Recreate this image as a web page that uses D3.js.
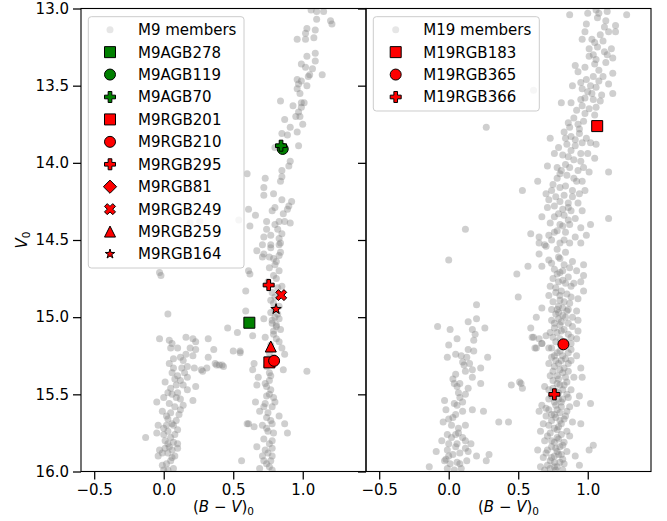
<!DOCTYPE html>
<html>
<head>
<meta charset="utf-8" />
<title>M9 and M19 colour-magnitude diagrams</title>
<style>
  body { margin: 0; background: #fff; }
  svg text { font-family: "DejaVu Sans", sans-serif; fill: #000; }
</style>
</head>
<body>
<div id="cmd"></div>
<script src="https://cdnjs.cloudflare.com/ajax/libs/d3/7.8.5/d3.min.js"></script>
<script>

// ---- data: [ (B-V)0 , V0 ] ----
var m9Members = [
  [1.06,13.01],[1.10,13.02],[1.15,13.02],[1.10,13.07],[1.20,13.08],[1.21,13.10],[1.03,13.13],[1.09,13.14],[1.02,13.16],
  [0.96,13.20],[1.02,13.20],[1.08,13.19],[1.09,13.29],[1.03,13.31],[1.09,13.34],[0.99,13.36],[1.02,13.38],[1.07,13.39],
  [1.05,13.43],[1.04,13.44],[1.14,13.43],[0.96,13.46],[0.99,13.47],[0.97,13.49],[1.03,13.50],[0.96,13.52],[0.98,13.55],
  [0.84,13.60],[0.99,13.61],[0.93,13.63],[1.01,13.61],[0.99,13.64],[0.97,13.67],[0.95,13.70],[0.98,13.70],[0.87,13.72],
  [1.00,13.75],[0.91,13.77],[0.96,13.80],[0.89,13.82],[0.85,13.81],[0.97,13.89],[0.80,13.90],[0.91,13.99],[0.90,14.02],
  [0.85,14.05],[0.85,14.09],[0.84,14.12],[0.60,14.07],[0.73,14.10],[0.72,14.16],[0.79,14.20],[0.72,14.21],[0.85,14.24],
  [0.92,14.25],[0.90,14.28],[0.80,14.29],[0.89,14.30],[0.78,14.31],[0.61,14.30],[0.66,14.34],[0.86,14.33],[0.54,14.37],
  [0.62,14.41],[0.74,14.38],[0.83,14.38],[0.87,14.38],[0.91,14.39],[0.74,14.43],[0.82,14.43],[0.85,14.46],[0.72,14.48],
  [0.83,14.49],[0.77,14.53],[0.83,14.53],[0.19,14.39],[0.26,14.38],
  [0.72,14.59],[0.84,14.58],[0.81,14.64],[0.61,14.70],[-0.03,14.71],[-0.02,14.73],[0.71,14.53],[0.77,14.55],[0.84,14.52],
  [0.67,14.57],[0.71,14.61],[0.76,14.61],[0.83,14.60],[0.80,14.66],[0.83,14.70],[0.62,14.72],[0.79,14.73],[0.85,14.80],
  [0.59,14.83],[0.79,14.91],[0.59,14.96],[0.77,14.97],[0.80,15.00],[0.72,15.01],[0.83,15.01],[0.78,15.04],[0.81,15.05],
  [0.46,15.07],[0.53,15.10],[0.64,15.12],[0.73,15.13],[0.79,15.09],[0.84,15.08],[0.81,15.14],[0.85,15.20],[0.87,15.24],
  [0.55,15.23],[0.76,15.23],[0.42,15.31],[0.65,15.30],[0.86,15.34],[1.03,15.35],[0.64,15.34],[0.68,15.39],[0.76,15.36],
  [0.76,15.41],[0.67,15.44],[0.74,15.45],[0.76,15.50],[0.74,15.51],[0.80,15.55],[0.66,15.55],[0.72,15.58],[0.78,15.58],
  [0.69,15.61],[0.83,15.64],[0.74,15.65],[0.61,15.69],[0.65,15.71],[0.71,15.70],[0.78,15.69],[0.87,15.69],[0.75,15.74],
  [0.79,15.75],[0.89,15.75],[0.72,15.79],[0.67,15.84],[0.73,15.86],[0.78,15.85],[0.71,15.90],[0.78,15.90],[0.56,15.93],
  [0.72,15.93],[0.76,15.97],[0.69,15.98],[0.78,15.99],
  [0.80,14.95],[0.82,14.98],[0.78,15.02],[0.81,15.06],[0.79,15.11],[0.83,15.16],[0.77,15.18],[0.80,14.87],[0.78,14.84],
  [0.75,14.77],[0.81,14.75],[0.75,15.27],[0.77,15.47],[0.75,15.62],[0.76,15.82],[0.74,15.95],
  [0.80,14.40],[0.77,14.47],[0.79,14.62],[0.76,14.68],[0.82,14.81],[0.77,14.89],[0.83,14.93],[0.79,15.26],[0.74,15.32],
  [0.77,15.38],[0.73,15.43],[0.79,15.52],[0.73,15.56],[0.77,15.67],[0.74,15.72],[0.78,15.80],[0.75,15.88],[0.77,15.93],
  [0.03,14.98],[-0.03,15.14],[0.04,15.15],[0.10,15.20],[0.05,15.20],[0.16,15.13],[0.21,15.14],[0.23,15.16],[0.32,15.14],
  [0.19,15.20],[0.23,15.21],[0.16,15.24],[0.21,15.25],[0.36,15.21],[0.32,15.26],[0.40,15.31],[0.37,15.30],[0.31,15.33],
  [0.27,15.34],[0.22,15.33],[0.17,15.32],[0.13,15.33],[0.07,15.27],[0.12,15.26],[0.07,15.33],[0.15,15.36],[0.17,15.39],
  [0.08,15.40],[0.12,15.41],[0.01,15.42],[0.09,15.44],[0.23,15.45],[0.17,15.47],[0.03,15.49],[0.10,15.49],[0.06,15.50],
  [0.12,15.53],[0.21,15.54],[-0.05,15.55],[0.04,15.56],[0.08,15.58],[0.12,15.60],[-0.01,15.61],[0.05,15.62],[0.03,15.66],
  [0.09,15.67],[-0.04,15.70],[0.02,15.70],[0.07,15.70],[0.10,15.73],[0.03,15.74],[0.00,15.76],[-0.13,15.78],[-0.05,15.75],
  [0.01,15.80],[0.07,15.81],[0.10,15.82],[0.03,15.82],[-0.03,15.86],[0.10,15.85],[-0.01,15.88],[0.03,15.88],[-0.04,15.90],
  [0.06,15.86],[0.05,15.93],[-0.01,15.96],[0.07,15.98],[0.00,15.99],[0.38,15.31],[0.43,15.32],[0.50,15.22],[0.55,15.22],
  [0.28,15.35],[0.60,15.69],
  [0.06,15.36],[0.09,15.52],[0.02,15.64],[0.05,15.78],[0.08,15.90],[0.11,15.63],[0.00,15.52],[0.14,15.44],[0.04,15.84],
  [0.02,15.95],[0.06,15.17],[0.14,15.28],[0.04,15.30],[0.10,15.38],[0.05,15.46],[0.14,15.57],[0.06,15.69],[0.00,15.72],
  [0.08,15.76],[0.01,15.85],[0.06,15.91],[0.03,15.99]
];

var m19Members = [
  [0.87,13.04],[1.00,13.03],[1.06,13.01],[1.14,13.02],[1.28,13.04],[1.07,13.06],[1.13,13.08],[0.99,13.10],[1.20,13.11],
  [1.20,13.15],[0.98,13.15],[1.09,13.17],[1.15,13.15],[0.96,13.20],[1.03,13.20],[1.11,13.21],[1.07,13.25],[1.17,13.26],
  [1.01,13.26],[1.12,13.28],[1.18,13.32],[1.01,13.31],[1.06,13.33],[1.13,13.35],[1.05,13.36],[0.91,13.37],[0.98,13.38],
  [0.93,13.41],[1.08,13.40],[1.18,13.42],[1.04,13.44],[1.11,13.44],[0.99,13.46],[0.89,13.50],[1.06,13.51],[1.15,13.49],
  [0.96,13.52],[1.00,13.54],[1.03,13.55],[1.10,13.56],[1.18,13.55],[0.81,13.61],[0.88,13.61],[0.95,13.59],[0.98,13.58],
  [1.04,13.59],[0.96,13.63],[1.06,13.64],[1.01,13.65],[0.90,13.71],[1.05,13.69],[0.94,13.78],[0.87,13.77],[0.83,13.80],
  [0.73,13.84],[0.84,13.84],[0.91,13.85],[0.94,13.81],[0.99,13.84],[1.02,13.87],[1.06,13.88],[0.85,13.88],[0.91,13.89],
  [0.76,13.94],[0.82,13.95],[0.88,13.92],[0.95,13.94],[1.00,13.94],[1.05,13.97],[0.90,13.98],[0.84,14.01],[0.95,13.99],
  [0.71,14.02],[0.78,14.03],[0.87,14.03],[0.97,14.03],[1.15,14.06],[1.01,14.06],[0.80,14.07],[0.85,14.08],[0.78,14.10],
  [0.92,14.12],[0.96,14.12],[0.64,14.12],[0.53,14.18],[0.75,14.14],[0.80,14.16],[0.84,14.15],[0.89,14.18],[0.98,14.18],
  [0.70,14.20],[0.83,14.21],[0.89,14.22],[0.94,14.20],[0.72,14.24],[0.80,14.25],[0.86,14.26],[0.93,14.26],[0.76,14.28],
  [0.71,14.29],[0.82,14.30],[0.88,14.31],[0.96,14.31],[0.67,14.35],[0.76,14.35],[0.83,14.34],[0.91,14.36],[1.15,14.36],
  [0.73,14.39],[0.80,14.40],[0.87,14.40],[1.02,14.40],[0.95,14.42],[0.78,14.44],[0.84,14.45],[0.59,14.46],[0.65,14.48],
  [0.72,14.47],[0.91,14.48],[0.99,14.47],[0.65,14.52],[0.69,14.53],[0.87,14.52],[0.80,14.52],
  [0.27,13.77],[0.61,13.53],[0.12,14.43],[0.00,14.63],
  [0.92,13.66],[0.86,13.74],[0.97,13.73],[0.79,13.90],[0.93,14.05],[0.74,14.18],[0.86,14.37],[0.76,14.45],[0.83,14.50],
  [1.04,13.30],[0.95,13.48],[1.09,13.60],
  [1.08,13.03],[1.12,13.12],[1.05,13.22],[1.14,13.30],[1.08,13.47],[1.02,13.50],[0.98,13.68],[0.93,13.75],[0.88,13.83],
  [0.96,13.87],[0.86,13.96],[0.81,14.05],[0.90,14.10],[0.77,14.22],[0.86,14.29],[0.79,14.33],[0.82,14.41],[0.74,14.50],
  [0.20,14.92],[-0.08,15.06],[0.01,15.08],[0.14,15.03],[0.20,15.01],[0.17,15.08],[0.26,15.07],[0.19,15.11],[0.06,15.14],
  [0.18,15.15],[0.00,15.18],[-0.01,15.26],[0.14,15.21],[0.09,15.25],[0.13,15.26],[0.28,15.26],[0.11,15.31],[0.23,15.33],
  [0.12,15.35],[0.17,15.34],[0.05,15.37],[0.17,15.39],[0.23,15.43],[0.04,15.43],[0.08,15.43],[0.14,15.46],[0.07,15.49],
  [0.12,15.50],[-0.03,15.54],[0.04,15.56],[0.06,15.57],[-0.02,15.60],[0.05,15.63],[0.10,15.61],[0.17,15.60],[0.25,15.61],
  [0.36,15.68],[-0.04,15.68],[0.02,15.70],[0.07,15.72],[0.12,15.70],[-0.01,15.76],[0.05,15.76],[0.10,15.78],[-0.05,15.80],
  [0.00,15.82],[0.06,15.82],[0.12,15.80],[0.16,15.82],[-0.09,15.87],[-0.01,15.86],[0.03,15.89],[0.08,15.88],[0.14,15.87],
  [0.29,15.89],[0.20,15.90],[0.27,15.93],[-0.03,15.93],[0.01,15.95],[0.08,15.95],[0.13,15.93],[-0.14,15.97],[-0.01,15.98],
  [0.04,15.99],
  [0.43,15.68],[0.45,15.44],[0.52,15.43],[0.53,15.46],[0.59,15.07],[0.60,15.13],[0.63,15.20],[0.67,15.17],[0.72,15.20],
  [0.50,14.87],[0.49,14.72],[0.57,14.67],
  [0.06,15.45],[0.02,15.78],[0.03,15.65],[0.08,15.52],[0.00,15.90],[0.05,15.84],[0.10,15.29],[0.06,15.94],
  [0.03,15.40],[0.10,15.55],[0.00,15.66],[0.07,15.75],[0.12,15.85],[-0.02,15.92],[0.09,15.98],[0.15,15.30],[0.18,15.22],
  [0.05,15.24],
  [0.70,14.54],[0.95,14.52],[0.65,14.59],[0.79,14.61],[0.89,14.64],[0.97,14.66],[0.67,14.67],[0.74,14.65],[0.82,14.70],
  [0.92,14.70],[0.78,14.72],[0.86,14.74],[0.97,14.73],[0.79,14.77],[0.73,14.80],[0.88,14.80],[0.95,14.77],[0.97,14.83],
  [0.81,14.83],[0.77,14.84],[0.72,14.86],[0.88,14.87],[0.93,14.88],[0.83,14.90],[0.67,14.94],[0.74,14.95],[0.79,14.93],
  [0.86,14.95],[0.92,14.96],[0.77,14.98],[0.82,14.99],[0.89,15.00],[0.63,15.00],[0.74,15.02],[0.81,15.03],[0.86,15.04],
  [0.93,15.02],[0.76,15.07],[0.83,15.08],[0.93,15.09],[0.61,15.13],[0.65,15.14],[0.70,15.12],[0.75,15.13],[0.88,15.13],
  [0.92,15.14],[0.67,15.17],[0.74,15.20],[0.62,15.20],[0.88,15.21],[0.92,15.25],[0.76,15.25],[0.82,15.25],[0.72,15.30],
  [0.79,15.30],[0.86,15.30],[0.95,15.33],[0.75,15.35],[0.82,15.36],[0.90,15.39],[0.96,15.39],[0.79,15.40],[0.85,15.42],
  [0.51,15.42],[0.69,15.45],[0.75,15.46],[0.82,15.47],[0.88,15.47],[0.94,15.51],[0.72,15.53],[0.79,15.53],[0.86,15.52],
  [0.67,15.57],[0.92,15.56],[1.02,15.56],[0.65,15.61],[0.72,15.60],[0.78,15.60],[0.85,15.61],[0.70,15.64],[0.77,15.65],
  [0.83,15.66],[0.89,15.68],[0.95,15.69],[0.72,15.70],[0.79,15.71],[0.66,15.74],[0.73,15.75],[0.81,15.76],[0.87,15.77],
  [0.69,15.80],[0.76,15.81],[0.83,15.81],[1.04,15.83],[0.64,15.86],[0.71,15.86],[0.78,15.87],[0.85,15.87],[1.01,15.86],
  [0.68,15.91],[0.74,15.91],[0.82,15.92],[0.91,15.90],[0.71,15.96],[0.78,15.97],[0.66,15.97],[0.94,15.96],
  [0.80,14.62],[0.76,14.69],[0.84,14.78],[0.80,14.89],[0.79,14.97],[0.80,15.05],[0.78,15.10],[0.84,15.16],[0.80,15.22],
  [0.77,15.28],[0.83,15.33],[0.78,15.38],[0.80,15.44],[0.77,15.48],[0.76,15.55],[0.81,15.58],[0.74,15.63],[0.80,15.67],
  [0.76,15.72],[0.78,15.78],[0.74,15.84],[0.79,15.89],[0.76,15.94],[0.77,15.99],[0.83,14.66],[0.85,14.96],[0.84,15.27],
  [0.75,15.41],[0.82,15.53],[0.80,15.84],[0.73,15.98],[0.83,15.95],
  [0.78,14.56],[0.84,14.58],[0.72,14.63],[0.87,14.68],[0.80,14.71],[0.75,14.75],[0.82,14.76],[0.90,14.78],[0.77,14.81],
  [0.85,14.85],[0.80,14.86],[0.75,14.90],[0.87,14.91],[0.82,14.94],[0.78,14.95],[0.84,15.00],[0.79,15.01],[0.76,15.04],
  [0.89,15.06],[0.81,15.09],[0.73,15.10],[0.86,15.11],[0.80,15.14],[0.77,15.16],[0.88,15.17],[0.82,15.19],[0.78,15.23],
  [0.86,15.23],[0.74,15.26],[0.81,15.28],[0.88,15.28],[0.76,15.32],[0.80,15.34],[0.86,15.35],[0.73,15.38],[0.84,15.39],
  [0.78,15.43],[0.83,15.44],[0.72,15.47],[0.79,15.49],[0.85,15.50],[0.74,15.51],[0.81,15.55],[0.77,15.57],[0.87,15.58],
  [0.70,15.59],[0.80,15.62],[0.76,15.63],[0.84,15.64],[0.74,15.67],[0.81,15.69],[0.68,15.69],[0.78,15.73],[0.85,15.74],
  [0.71,15.77],[0.79,15.79],[0.74,15.80],[0.82,15.83],[0.77,15.85],[0.70,15.88],[0.81,15.89],[0.76,15.90],[0.73,15.93],
  [0.80,15.94],[0.76,15.97],[0.69,15.99],[0.82,15.99]
];

// highlighted stars
var m9StarNames = ["M9AGB278","M9AGB119","M9AGB70","M9RGB201","M9RGB210","M9RGB295","M9RGB81","M9RGB249","M9RGB259","M9RGB164"];
var m9StarBV    = [0.616, 0.856, 0.844, 0.760, 0.794, 0.755, 0.80, 0.845, 0.770, 0.808];
var m9StarV     = [15.036, 13.910, 13.889, 15.293, 15.283, 14.792, 12.60, 14.857, 15.190, 14.948];

var m19StarNames = ["M19RGB183","M19RGB365","M19RGB366"];
var m19StarBV    = [1.068, 0.825, 0.760];
var m19StarV     = [13.762, 15.176, 15.500];

var xTicks = [-0.5, 0.0, 0.5, 1.0];
var yTicks = [13.0, 13.5, 14.0, 14.5, 15.0, 15.5, 16.0];

// marker styles, matched to the star lists by position
var m9Shapes  = ["square","circle","plus","square","circle","plus","diamond","x","triangle","star"];
var m9Colors  = ["green","green","green","red","red","red","red","red","red","red"];
var m19Shapes = ["square","circle","plus"];
var m19Colors = ["red","red","red"];

// ---- layout ----
var W = 667, H = 521;
var plotTop = 8.5, plotBottom = 471.5;
var fontPx = "15px";
var panels = [
  {left: 81,  right: 366, members: m9Members,  label: "M9 members",  names: m9StarNames,  bv: m9StarBV,  v: m9StarV,  shapes: m9Shapes,  colors: m9Colors,  yLabels: true,
   legend: {x: 88.3, w: 155.7, mx: 110, tx: 138}},
  {left: 366, right: 651, members: m19Members, label: "M19 members", names: m19StarNames, bv: m19StarBV, v: m19StarV, shapes: m19Shapes, colors: m19Colors, yLabels: false,
   legend: {x: 373.3, w: 166, mx: 395.7, tx: 423.3}}
];

var y = d3.scaleLinear().domain([13, 16]).range([plotTop, plotBottom]);

function markerPath(shape, s) {
  var h = s / 2, p;
  switch (shape) {
    case "square":
      return "M" + (-h) + "," + (-h) + "H" + h + "V" + h + "H" + (-h) + "Z";
    case "circle":
      return "M" + h + ",0A" + h + "," + h + " 0 1,1 " + (-h) + ",0A" + h + "," + h + " 0 1,1 " + h + ",0Z";
    case "plus":
      p = [[-1,-3],[1,-3],[1,-1],[3,-1],[3,1],[1,1],[1,3],[-1,3],[-1,1],[-3,1],[-3,-1],[-1,-1]];
      return "M" + p.map(function (d) { return [d[0] * s / 6, d[1] * s / 6]; }).join("L") + "Z";
    case "x":
      p = [[-1,-2],[0,-1],[1,-2],[2,-1],[1,0],[2,1],[1,2],[0,1],[-1,2],[-2,1],[-1,0],[-2,-1]];
      return "M" + p.map(function (d) { return [d[0] * s / 4, d[1] * s / 4]; }).join("L") + "Z";
    case "diamond":
      var r = s * 0.6;
      return "M0," + (-r) + "L" + r + ",0L0," + r + "L" + (-r) + ",0Z";
    case "triangle":
      return "M0," + (-h) + "L" + h + "," + h + "L" + (-h) + "," + h + "Z";
    case "star":
      p = [];
      for (var i = 0; i < 10; i++) {
        var rr = i % 2 === 0 ? h : h * 0.382;
        var a = -Math.PI / 2 + i * Math.PI / 5;
        p.push([rr * Math.cos(a), rr * Math.sin(a)]);
      }
      return "M" + p.join("L") + "Z";
  }
}

var svg = d3.select("#cmd").append("svg")
  .attr("width", W)
  .attr("height", H);

var defs = svg.append("defs");

panels.forEach(function (P, i) {
  var x = d3.scaleLinear().domain([-0.595, 1.455]).range([P.left, P.right]);

  defs.append("clipPath").attr("id", "clip" + i)
    .append("rect")
    .attr("x", P.left).attr("y", plotTop)
    .attr("width", P.right - P.left).attr("height", plotBottom - plotTop);

  var g = svg.append("g").attr("clip-path", "url(#clip" + i + ")");

  // cluster members
  g.append("g").selectAll("circle")
    .data(P.members)
    .join("circle")
    .attr("cx", function (d) { return x(d[0]); })
    .attr("cy", function (d) { return y(d[1]); })
    .attr("r", 3.5)
    .attr("fill", "#808080")
    .attr("fill-opacity", 0.38);

  // highlighted stars
  g.append("g").selectAll("path")
    .data(P.names)
    .join("path")
    .attr("transform", function (d, k) { return "translate(" + x(P.bv[k]) + "," + y(P.v[k]) + ")"; })
    .attr("d", function (d, k) { return markerPath(P.shapes[k], 11); })
    .attr("fill", function (d, k) { return P.colors[k]; })
    .attr("stroke", "#000")
    .attr("stroke-width", 1);

  // axes
  var xAxis = svg.append("g")
    .attr("transform", "translate(0," + plotBottom + ")")
    .call(d3.axisBottom(x).tickValues(xTicks).tickFormat(d3.format(".1f")).tickSize(8).tickPadding(5));
  var yAxis = svg.append("g")
    .attr("transform", "translate(" + P.left + ",0)")
    .call(d3.axisLeft(y).tickValues(yTicks).tickFormat(P.yLabels ? d3.format(".1f") : "").tickSize(8).tickPadding(4));
  [xAxis, yAxis].forEach(function (a) {
    a.select(".domain").remove();
    a.selectAll(".tick line").attr("stroke", "#000").attr("stroke-width", 1.25);
    a.selectAll(".tick text").style("font-size", fontPx).style("font-family", "'DejaVu Sans', sans-serif").attr("fill", "#000");
  });

  // frame
  svg.append("rect")
    .attr("x", P.left).attr("y", plotTop)
    .attr("width", P.right - P.left).attr("height", plotBottom - plotTop)
    .attr("fill", "none").attr("stroke", "#000").attr("stroke-width", 1.1);

  // x label (B - V)0
  var xl = svg.append("text")
    .attr("x", (P.left + P.right) / 2).attr("y", 511.5)
    .attr("text-anchor", "middle")
    .style("font-size", fontPx);
  xl.append("tspan").text("(");
  xl.append("tspan").style("font-style", "italic").text("B");
  xl.append("tspan").text(" \u2212 ");
  xl.append("tspan").style("font-style", "italic").text("V");
  xl.append("tspan").text(")");
  xl.append("tspan").attr("dy", 3).style("font-size", "10.5px").text("0");

  // legend
  var L = P.legend;
  var rowY0 = 29.7, rowStep = 22.43;
  var nRows = P.names.length + 1;
  var lg = svg.append("g");
  lg.append("rect")
    .attr("x", L.x).attr("y", 16.7)
    .attr("width", L.w).attr("height", rowY0 - 16.7 + (nRows - 1) * rowStep + 14)
    .attr("rx", 3)
    .attr("fill", "#fff").attr("fill-opacity", 0.8)
    .attr("stroke", "#cccccc").attr("stroke-width", 1);

  lg.append("circle")
    .attr("cx", L.mx).attr("cy", rowY0).attr("r", 3.5)
    .attr("fill", "#808080").attr("fill-opacity", 0.2);
  lg.append("text")
    .attr("x", L.tx).attr("y", rowY0).attr("dy", "0.36em")
    .style("font-size", fontPx).text(P.label);

  P.names.forEach(function (name, k) {
    var cy = rowY0 + (k + 1) * rowStep;
    lg.append("path")
      .attr("transform", "translate(" + L.mx + "," + cy + ")")
      .attr("d", markerPath(P.shapes[k], P.shapes[k] === "star" ? 10 : 11))
      .attr("fill", P.colors[k]).attr("stroke", "#000").attr("stroke-width", 1);
    lg.append("text")
      .attr("x", L.tx).attr("y", cy).attr("dy", "0.36em")
      .style("font-size", fontPx).text(name);
  });
});

// y label V0
var yl = svg.append("text")
  .attr("transform", "translate(27,240) rotate(-90)")
  .attr("text-anchor", "middle")
  .style("font-size", fontPx);
yl.append("tspan").style("font-style", "italic").text("V");
yl.append("tspan").attr("dy", 3).style("font-size", "10.5px").text("0");

</script>
</body>
</html>
